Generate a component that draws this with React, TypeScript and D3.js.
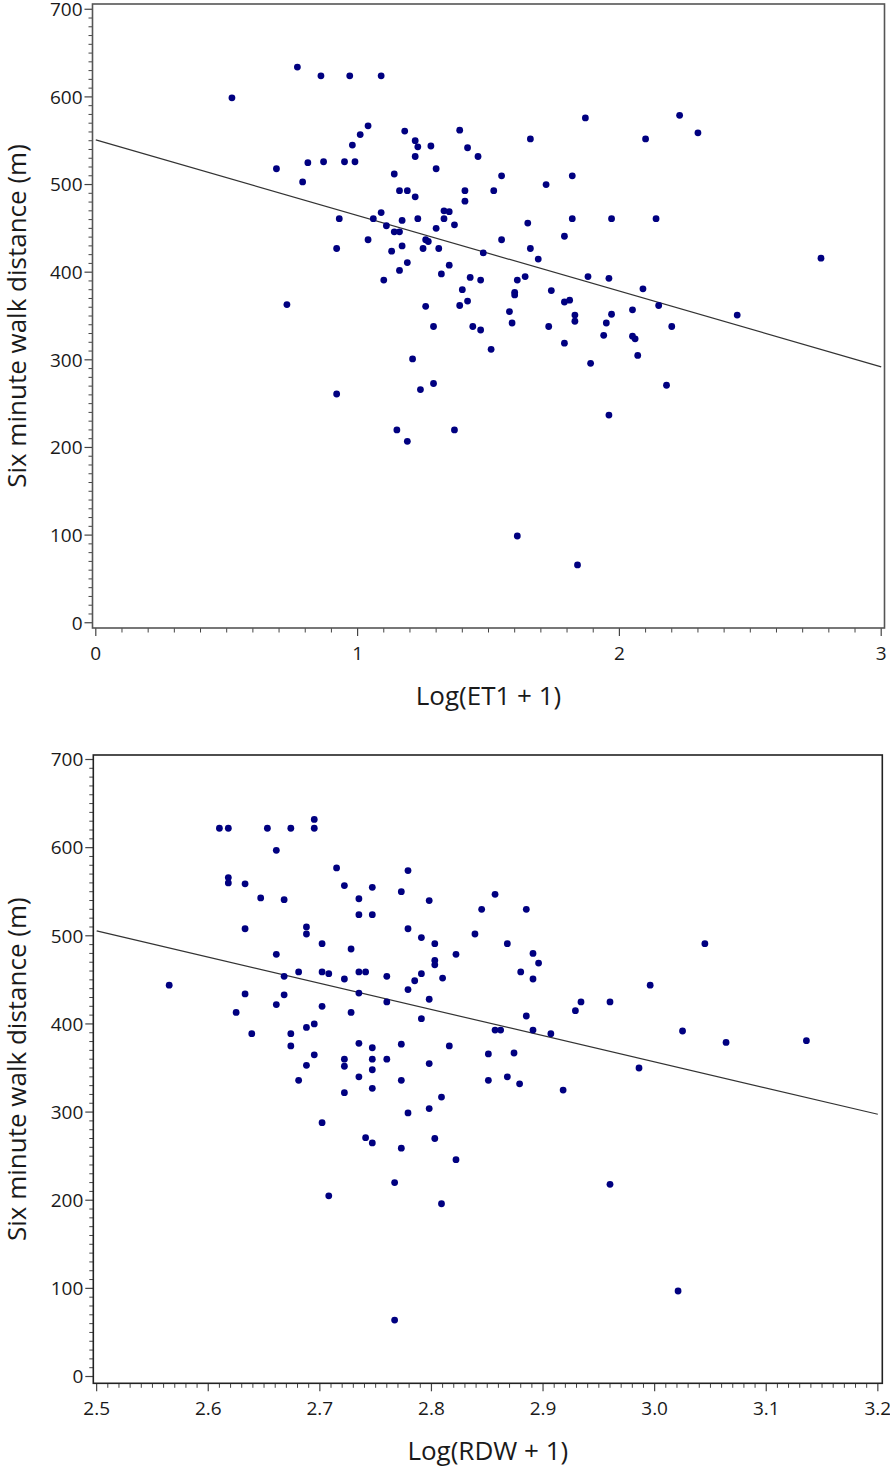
import React from "react";
import * as d3 from "d3";

// ---------- Data ----------
const et1X = [
  0.52, 0.77, 0.69, 0.73,
  0.86, 0.97, 1.09, 1.87, 1.04, 1.01, 1.18, 1.39, 0.98, 1.22, 1.23, 1.28, 1.42, 1.66, 1.22, 1.46,
  0.81, 0.87, 0.95, 0.99, 1.30, 0.79, 1.14, 1.55, 1.82, 1.72, 1.16, 1.19, 1.41, 1.52, 1.22, 1.41,
  1.09, 1.33, 1.35, 0.93, 1.06, 1.17, 1.23, 1.33, 1.65, 1.82, 1.11, 1.37, 1.14, 1.16, 1.30, 1.79,
  1.04, 1.26, 1.27, 1.55, 0.92, 1.17, 1.13, 1.25, 1.31, 1.66, 1.48, 1.69, 1.19, 1.35, 1.16, 1.32,
  1.10, 1.43, 1.47, 1.61, 1.64, 1.88, 1.40, 1.74, 1.60, 1.60, 1.26, 1.39, 1.42, 1.79, 1.81, 1.58,
  1.83, 1.83, 1.59, 1.29, 1.44, 1.47, 1.73,
  2.23, 2.30, 2.10, 1.97, 2.14, 2.77, 1.96, 2.09, 2.15, 2.05, 1.97, 2.45, 1.95, 2.20,
  1.21, 1.29, 1.24, 0.92, 1.15, 1.19,
  1.51, 1.79, 1.94, 2.05, 2.06, 2.07, 1.89, 2.18, 1.96, 1.37, 1.61, 1.84,
];
const et1Y = [
  599, 634, 518, 363,
  624, 624, 624, 576, 567, 557, 561, 562, 545, 550, 543, 544, 542, 552, 532, 532,
  525, 526, 526, 526, 518, 503, 512, 510, 510, 500, 493, 493, 493, 493, 486, 481,
  468, 470, 469, 461, 461, 459, 461, 461, 456, 461, 453, 454, 446, 446, 450, 441,
  437, 437, 435, 437, 427, 430, 424, 427, 427, 427, 422, 415, 411, 408, 402, 398,
  391, 394, 391, 391, 395, 395, 380, 379, 377, 374, 361, 362, 367, 366, 368, 355,
  351, 344, 342, 338, 338, 334, 338,
  579, 559, 552, 461, 461, 416, 393, 381, 362, 357, 352, 351, 342, 338,
  301, 273, 266, 261, 220, 207,
  312, 319, 328, 327, 324, 305, 296, 271, 237, 220, 99, 66,
];

const rdwX = [
  2.610, 2.618, 2.653, 2.674, 2.661, 2.618, 2.618, 2.633, 2.647, 2.668, 2.633, 2.661, 2.668, 2.681,
  2.565, 2.633, 2.668, 2.661, 2.625, 2.639, 2.674, 2.674,
  2.695, 2.695, 2.715, 2.722, 2.747, 2.779, 2.735, 2.773, 2.798, 2.857, 2.845, 2.885, 2.735, 2.747,
  2.688, 2.688, 2.779, 2.839, 2.791, 2.702, 2.803, 2.868, 2.728, 2.891, 2.822, 2.896, 2.803, 2.803,
  2.702, 2.708, 2.735, 2.741, 2.791, 2.880, 2.722, 2.760, 2.810, 2.785, 2.891, 2.779, 2.735, 2.702,
  2.760, 2.798, 2.728, 2.791, 2.885, 2.929, 2.934, 2.857, 2.862, 2.891, 2.907, 2.688, 2.695, 2.695,
  2.688, 2.735, 2.747, 2.773, 2.816, 2.851, 2.874, 2.722, 2.722, 2.747, 2.760, 2.798, 2.747,
  3.045, 2.996, 2.960, 3.025, 3.064, 3.136, 2.986,
  2.681, 2.735, 2.722, 2.747, 2.773, 2.809, 2.798, 2.779, 2.702, 2.741, 2.747, 2.773, 2.803, 2.767,
  2.708, 2.809, 2.767,
  2.851, 2.868, 2.879, 2.918, 2.822, 2.960, 3.021,
];
const rdwY = [
  622, 622, 622, 622, 597, 566, 560, 559, 543, 541, 508, 479, 454, 459,
  444, 434, 433, 422, 413, 389, 389, 375,
  632, 622, 577, 557, 555, 574, 542, 550, 540, 547, 530, 530, 524, 524,
  510, 502, 508, 502, 498, 491, 491, 491, 485, 480, 479, 469, 472, 467,
  459, 457, 459, 459, 457, 459, 451, 454, 452, 449, 451, 439, 435, 420,
  425, 428, 413, 406, 409, 415, 425, 393, 393, 393, 389, 396, 400, 365,
  353, 378, 373, 377, 375, 366, 367, 360, 352, 360, 360, 355, 348,
  491, 444, 425, 392, 379, 381, 350,
  336, 340, 322, 327, 336, 317, 304, 299, 288, 271, 265, 259, 270, 220,
  205, 196, 64,
  336, 340, 332, 325, 246, 218, 97,
];

// Regression line endpoints
const et1FitX = [0, 3];
const et1FitY = [551, 292];
const rdwFitX = [2.5, 3.2];
const rdwFitY = [505.5, 297.5];

// Ticks
const yTickValues = [0, 100, 200, 300, 400, 500, 600, 700];
const et1XTicks = [0, 1, 2, 3];
const et1XTickLabels = ["0", "1", "2", "3"];
const rdwXTicks = [2.5, 2.6, 2.7, 2.8, 2.9, 3.0, 3.1, 3.2];
const rdwXTickLabels = ["2.5", "2.6", "2.7", "2.8", "2.9", "3.0", "3.1", "3.2"];

const yTitle = "Six minute walk distance (m)";
const et1Title = "Log(ET1 + 1)";
const rdwTitle = "Log(RDW + 1)";

const FONT = "'Open Sans', 'Noto Sans', sans-serif";
const TEXT = "#1a1a1a";
const DOT = "#000080";

type PanelProps = {
  xs: number[];
  ys: number[];
  fitX: number[];
  fitY: number[];
  xDomain: [number, number];
  xRange: [number, number];
  yDomain: [number, number];
  yRange: [number, number];
  xTicks: number[];
  xTickLabels: string[];
  xMinor: number[];
  xTitle: string;
  xTitleBaseline: number;
  frame: string;
};

function Panel(p: PanelProps) {
  const x = d3.scaleLinear().domain(p.xDomain).range(p.xRange);
  const y = d3.scaleLinear().domain(p.yDomain).range(p.yRange);
  const [x0, x1] = p.xRange;
  const [yB, yT] = p.yRange;
  const yMinor = d3.range(0, 701, 10).filter((v) => v % 100 !== 0);
  const line = d3
    .line<number>()
    .x((_, i) => x(p.fitX[i]))
    .y((_, i) => y(p.fitY[i]));
  const cx = (x0 + x1) / 2;
  const cy = (yB + yT) / 2;
  return (
    <g>
      {yMinor.map((v) => (
        <line key={"ym" + v} x1={x0 - 4} x2={x0} y1={y(v)} y2={y(v)} stroke="#444" strokeWidth={1} />
      ))}
      {yTickValues.map((v) => (
        <g key={"yt" + v}>
          <line x1={x0 - 8} x2={x0} y1={y(v)} y2={y(v)} stroke="#444" strokeWidth={1.2} />
          <text
            x={x0 - 10}
            y={y(v)}
            dy="0.36em"
            textAnchor="end"
            fontFamily={FONT}
            fontSize={19}
            fill={TEXT}
          >
            {v}
          </text>
        </g>
      ))}
      {p.xMinor.map((v, i) => (
        <line key={"xm" + i} x1={x(v)} x2={x(v)} y1={yB} y2={yB + 4.5} stroke="#444" strokeWidth={1} />
      ))}
      {p.xTicks.map((v, i) => (
        <g key={"xt" + i}>
          <line x1={x(v)} x2={x(v)} y1={yB} y2={yB + 8} stroke="#444" strokeWidth={1.2} />
          <text
            x={x(v)}
            y={yB + 32}
            textAnchor="middle"
            fontFamily={FONT}
            fontSize={19}
            fill={TEXT}
          >
            {p.xTickLabels[i]}
          </text>
        </g>
      ))}
      <rect x={x0} y={yT} width={x1 - x0} height={yB - yT} fill="none" stroke={p.frame} strokeWidth={1.6} />
      <path d={line(p.fitX) || ""} fill="none" stroke="#333" strokeWidth={1.2} />
      {p.xs.map((v, i) => (
        <circle key={"p" + i} cx={x(v)} cy={y(p.ys[i])} r={3.4} fill={DOT} />
      ))}
      <text
        x={cx}
        y={p.xTitleBaseline}
        textAnchor="middle"
        fontFamily={FONT}
        fontSize={26}
        fill={TEXT}
      >
        {p.xTitle}
      </text>
      <text
        transform={`translate(26, ${cy}) rotate(-90)`}
        textAnchor="middle"
        fontFamily={FONT}
        fontSize={26}
        fill={TEXT}
      >
        {yTitle}
      </text>
    </g>
  );
}

export default function App() {
  const et1Minor = d3.range(0, 31).map((v) => v / 10).filter((v) => !et1XTicks.includes(v));
  const rdwMinor = d3
    .range(250, 321)
    .filter((v) => v % 10 !== 0)
    .map((v) => v / 100);
  return (
    <svg
      width={890}
      height={1467}
      style={{ position: "absolute", left: 0, top: 0, background: "#fff" }}
    >
      <Panel
        xs={et1X}
        ys={et1Y}
        fitX={et1FitX}
        fitY={et1FitY}
        xDomain={[-0.0126, 3.0126]}
        xRange={[92.5, 884.5]}
        yDomain={[-6, 706]}
        yRange={[628, 4]}
        xTicks={et1XTicks}
        xTickLabels={et1XTickLabels}
        xMinor={et1Minor}
        xTitle={et1Title}
        xTitleBaseline={705}
        frame="#555"
      />
      <Panel
        xs={rdwX}
        ys={rdwY}
        fitX={rdwFitX}
        fitY={rdwFitY}
        xDomain={[2.497, 3.204]}
        xRange={[93.3, 882.3]}
        yDomain={[-7.7, 705.1]}
        yRange={[1383.3, 755]}
        xTicks={rdwXTicks}
        xTickLabels={rdwXTickLabels}
        xMinor={rdwMinor}
        xTitle={rdwTitle}
        xTitleBaseline={1460}
        frame="#222"
      />
    </svg>
  );
}
